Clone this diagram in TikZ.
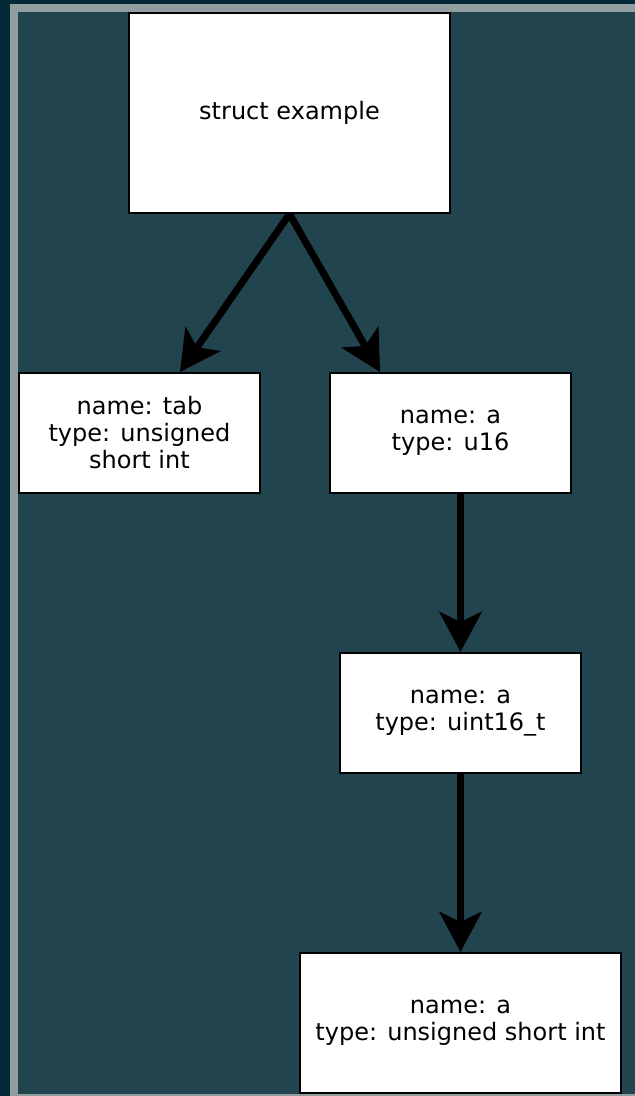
\documentclass[tikz,border=0pt]{standalone}
\usepackage{fontspec}
\setmainfont{DejaVu Sans}
\usetikzlibrary{arrows.meta}
\definecolor{outerdark}{RGB}{4,42,56}
\definecolor{framegray}{RGB}{145,158,159}
\definecolor{teal}{RGB}{33,68,78}
\tikzset{
  box/.style={draw=black, line width=2pt, fill=white, inner sep=0pt, align=center,
    font=\fontsize{24pt}{27pt}\selectfont},
  arr/.style={line width=7pt, -{Stealth[length=40pt,width=42pt,inset=10pt]}}
}
\begin{document}
\begin{tikzpicture}[x=1pt,y=-1pt]
\useasboundingbox (0,0) rectangle (635,1096);
\fill[outerdark] (0,0) rectangle (635,1096);
\fill[framegray] (10,4) rectangle (635,1096);
\fill[teal] (18,12) rectangle (635,1094);

\node[box, minimum width=321pt, minimum height=200pt] (root) at (289.5,113) {struct example};
\node[box, minimum width=241pt, minimum height=120pt] (tab) at (139.5,433) {name: tab\\type: unsigned\\short int};
\node[box, minimum width=241pt, minimum height=120pt] (u16) at (450.5,433) {name: a\\type: u16};
\node[box, minimum width=241pt, minimum height=120pt] (uint) at (460.5,713) {name: a\\type: uint16\_t};
\node[box, minimum width=321pt, minimum height=140pt] (ushort) at (460.5,1023) {name: a\\type: unsigned short int};

\draw[arr] (root.south) -- ([xshift=40.5pt]tab.north);
\draw[arr] (root.south) -- ([xshift=-70.5pt]u16.north);
\draw[arr] ([xshift=10pt]u16.south) -- (uint.north);
\draw[arr] (uint.south) -- (ushort.north);
\end{tikzpicture}
\end{document}
